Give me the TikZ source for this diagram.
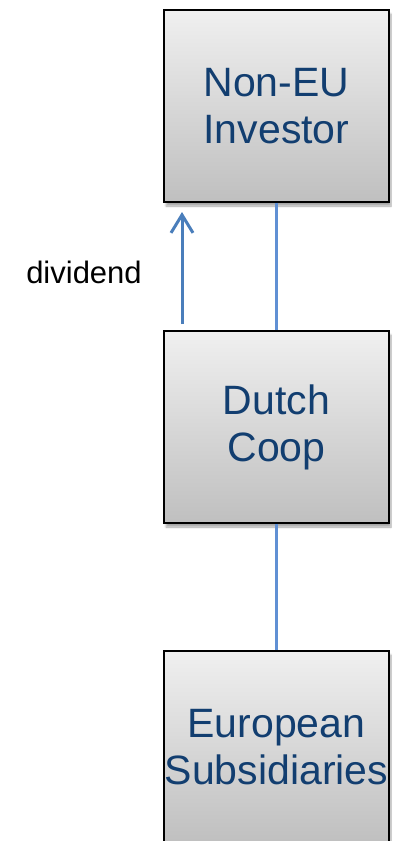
\documentclass[tikz,border=0pt]{standalone}
\usepackage{fontspec}
\setmainfont{Liberation Sans}
\usetikzlibrary{arrows.meta,shadows.blur}
\definecolor{boxtext}{RGB}{18,62,112}
\definecolor{linkblue}{RGB}{96,144,212}
\definecolor{flowblue}{RGB}{74,126,187}
\tikzset{
  entity/.style={draw=black, line width=1.8pt, minimum width=225pt, minimum height=192pt,
    top color=gray!12, bottom color=gray!50, inner sep=0pt,
    blur shadow={shadow xshift=2pt, shadow yshift=-4pt, shadow opacity=35, shadow blur steps=6},
    font=\fontsize{41}{47}\selectfont, text=boxtext, align=center},
  link/.style={draw=linkblue, line width=2.2pt},
  flow/.style={draw=flowblue, line width=3pt, -{Straight Barb[length=18pt,width=22pt,line width=3pt]}},
  lbl/.style={font=\fontsize{31}{36}\selectfont, text=black}
}
\begin{document}
\begin{tikzpicture}[x=1pt,y=-1pt]
  \useasboundingbox (0,0) rectangle (392,841);
  \begin{scope}
    \clip (0,0) rectangle (392,841);
    \node[entity] (inv) at (276.5,106) {Non-EU\\Investor};
    \node[entity] (coop) at (276.5,427) {Dutch\\Coop};
    \node[entity] (subs) at (276.5,747) {European\\Subsidiaries};
  \end{scope}
  \draw[link] (inv.south) -- (coop.north);
  \draw[link] (coop.south) -- (subs.north);
  \coordinate (fstart) at (182,324);
  \coordinate (fend) at (182,212);
  \draw[flow] (fstart) -- (fend);
  \node[lbl] (div) at (84,272) {dividend};
\end{tikzpicture}
\end{document}
